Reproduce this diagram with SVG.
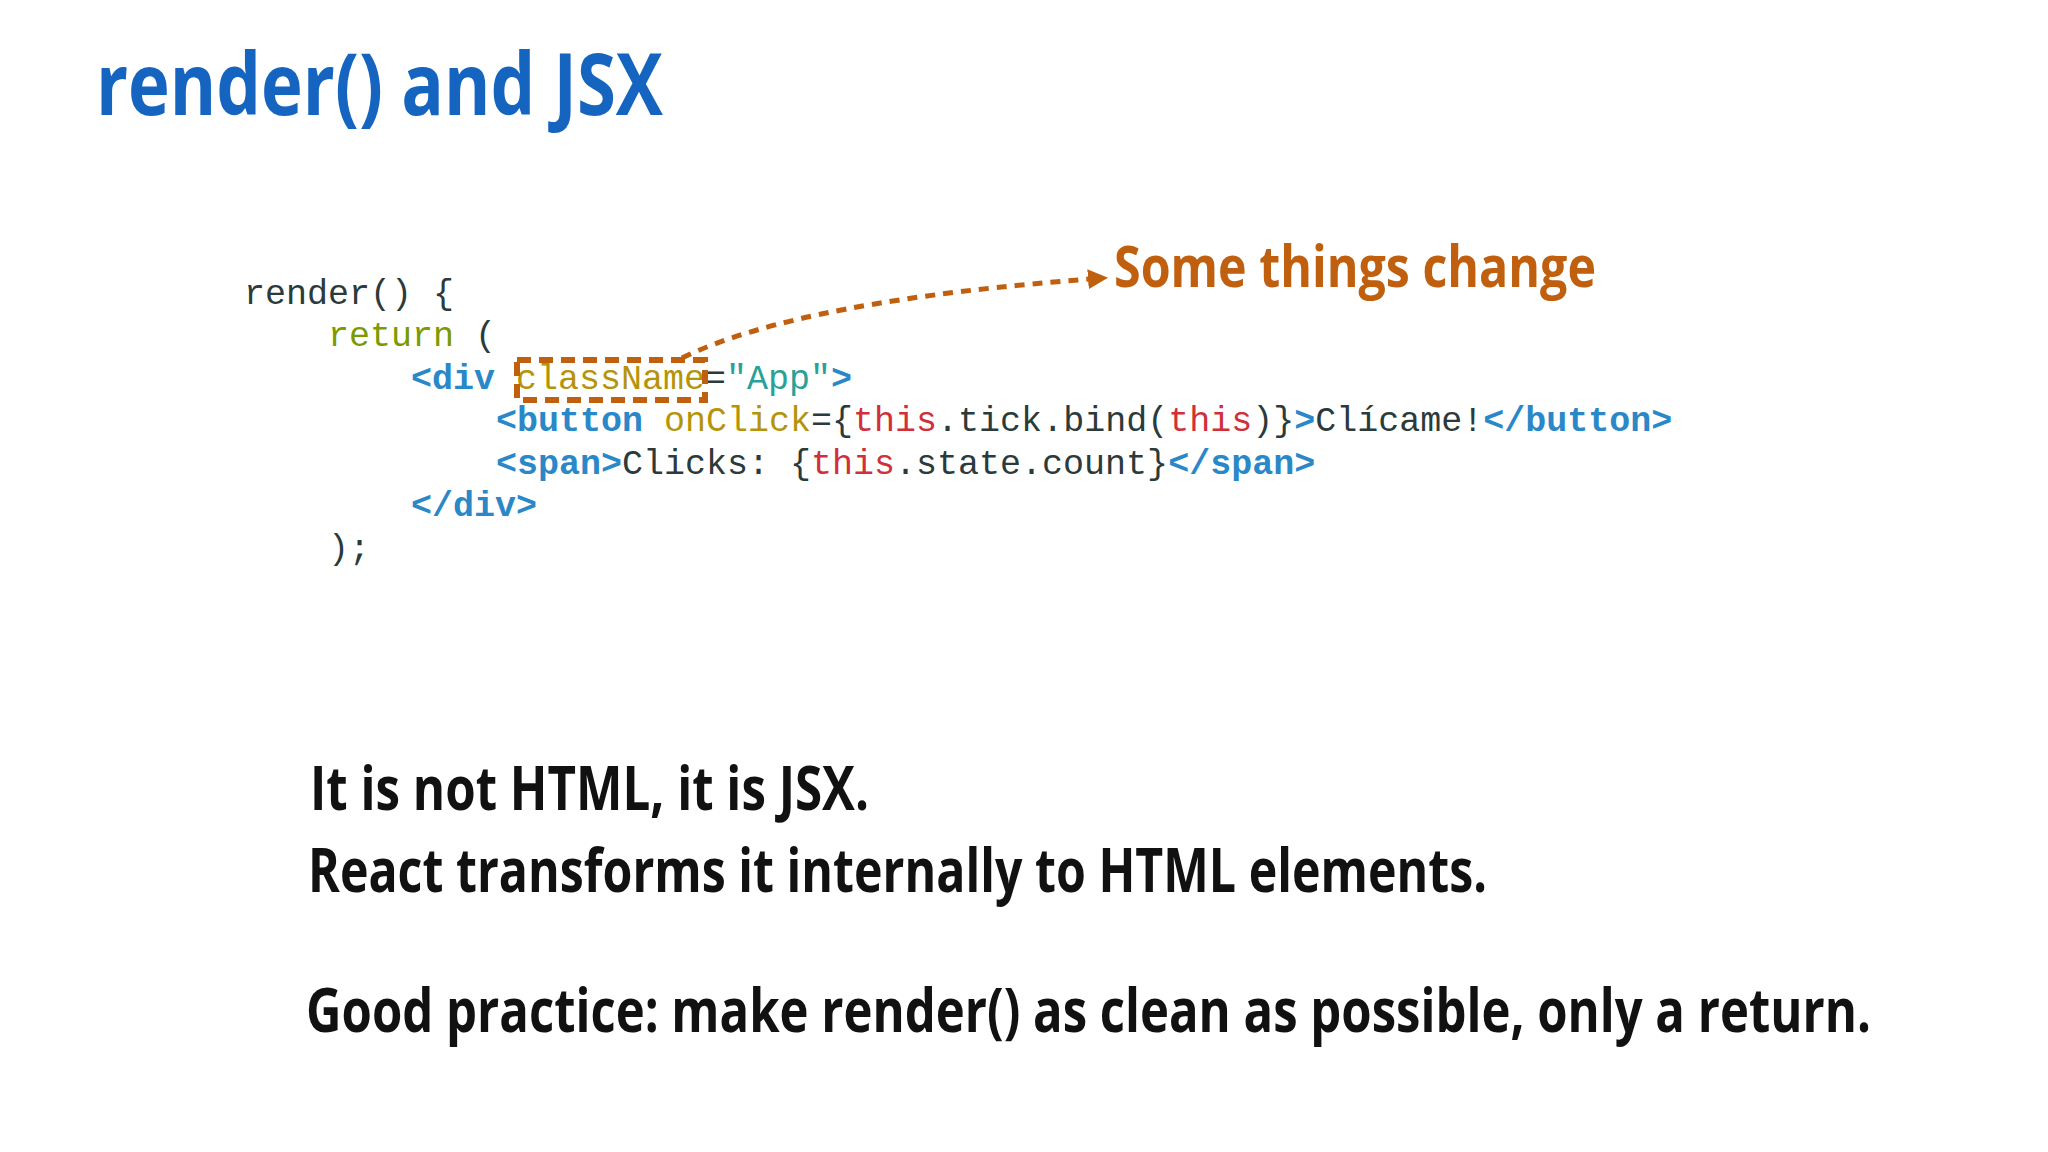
<svg xmlns="http://www.w3.org/2000/svg" width="2048" height="1152" viewBox="0 0 2048 1152">
<defs>
<style>
.code{font-family:"Liberation Mono","Courier New",monospace;font-size:35px;fill:#2b3a3a;white-space:pre}
.t{fill:#2a88c8;font-weight:bold}.k{fill:#7a9a01}.a{fill:#b5940a}.s{fill:#2aa198}.r{fill:#d0303a}
.h{font-family:"Open Sans","Liberation Sans",sans-serif;font-weight:bold}
</style>
<marker id="ah" viewBox="0 0 10 10" refX="8" refY="5" markerWidth="4" markerHeight="4" orient="auto"><path d="M0,0L10,5L0,10z" fill="#c0600f"/></marker>
</defs>
<rect width="2048" height="1152" fill="#ffffff"/>
<g id="title"><text class="h" x="96" y="115" font-size="86" fill="#1565c0" textLength="567" lengthAdjust="spacingAndGlyphs">render() and JSX</text></g>
<g id="code">
<text class="code" xml:space="preserve" x="244" y="304">render() {</text>
<text class="code" xml:space="preserve" x="328" y="346"><tspan class="k">return</tspan> (</text>
<text class="code" xml:space="preserve" x="411" y="389"><tspan class="t">&lt;div</tspan> <tspan class="a">className</tspan>=<tspan class="s">"App"</tspan><tspan class="t">&gt;</tspan></text>
<text class="code" xml:space="preserve" x="496" y="431"><tspan class="t">&lt;button</tspan> <tspan class="a">onClick</tspan>={<tspan class="r">this</tspan>.tick.bind(<tspan class="r">this</tspan>)}<tspan class="t">&gt;</tspan>Clícame!<tspan class="t">&lt;/button&gt;</tspan></text>
<text class="code" xml:space="preserve" x="496" y="474"><tspan class="t">&lt;span&gt;</tspan>Clicks: {<tspan class="r">this</tspan>.state.count}<tspan class="t">&lt;/span&gt;</tspan></text>
<text class="code" xml:space="preserve" x="411" y="516"><tspan class="t">&lt;/div&gt;</tspan></text>
<text class="code" xml:space="preserve" x="328" y="559">);</text>
</g>
<g id="highlight"><rect x="517" y="360" width="188" height="40" fill="none" stroke="#c0600f" stroke-width="6" stroke-dasharray="14 8"/></g>
<g id="connectors"><path d="M682,358 Q800,300 1104,278" fill="none" stroke="#c0600f" stroke-width="5" stroke-dasharray="10 8" marker-end="url(#ah)"/></g>
<g id="label"><text class="h" x="1114" y="287" font-size="57" fill="#c0600f" textLength="482" lengthAdjust="spacingAndGlyphs">Some things change</text></g>
<g id="notes">
<text class="h" x="310" y="810" font-size="60" fill="#111" textLength="559" lengthAdjust="spacingAndGlyphs">It is not HTML, it is JSX.</text>
<text class="h" x="308" y="892" font-size="60" fill="#111" textLength="1179" lengthAdjust="spacingAndGlyphs">React transforms it internally to HTML elements.</text>
<text class="h" x="306" y="1032" font-size="60" fill="#111" textLength="1565" lengthAdjust="spacingAndGlyphs">Good practice: make render() as clean as possible, only a return.</text>
</g>
</svg>
